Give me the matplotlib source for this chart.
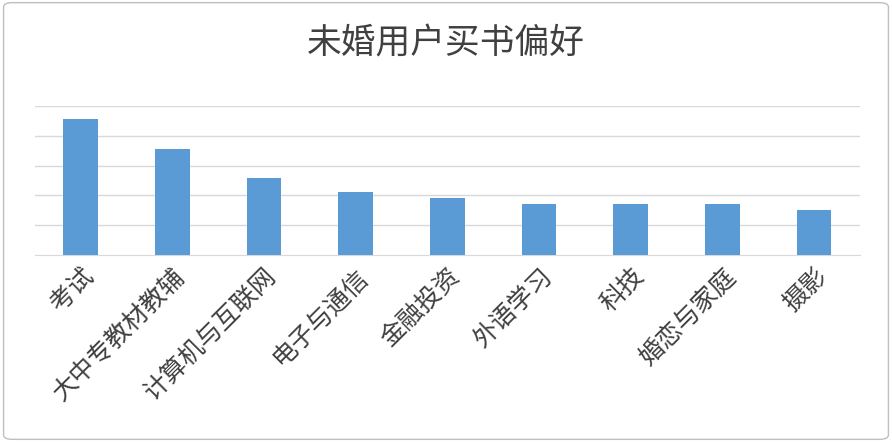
import matplotlib.pyplot as plt
from matplotlib.patches import FancyBboxPatch

plt.rcParams['font.family'] = ['Noto Sans CJK SC', 'DejaVu Sans']

categories = ["考试", "大中专教材教辅", "计算机与互联网", "电子与通信", "金融投资",
              "外语学习", "科技", "婚恋与家庭", "摄影"]
values = [4.57, 3.57, 2.57, 2.1, 1.9, 1.7, 1.7, 1.7, 1.5]

fig = plt.figure(figsize=(8.92, 4.42), dpi=100)
ax = fig.add_axes([0.039, 0.423, 0.925, 0.337])
x = range(len(categories))
ax.bar(x, values, width=0.38, color="#5B9BD5", zorder=3)
ax.set_ylim(0, 5)
ax.set_xlim(-0.5, len(categories) - 0.5)
ax.set_yticks([1, 2, 3, 4, 5])
ax.set_yticklabels([])
ax.tick_params(axis="y", length=0)
ax.tick_params(axis="x", length=0, pad=6)
ax.grid(axis="y", color="#d9d9d9", lw=1, zorder=0)
for s in ["top", "right", "left"]:
    ax.spines[s].set_visible(False)
ax.spines["bottom"].set_color("#d9d9d9")
ax.set_xticks(list(x))
ax.set_xticklabels(categories, rotation=45, ha="right", rotation_mode="anchor",
                   fontsize=18, color="#404040")
fig.text(0.5, 0.9, "未婚用户买书偏好", ha="center", va="center",
         fontsize=25, color="#404040")
fig.patches.append(FancyBboxPatch((0.004, 0.006), 0.992, 0.988,
                                  boxstyle="round,pad=0,rounding_size=0.01",
                                  transform=fig.transFigure, fill=False,
                                  edgecolor="#bfbfbf", lw=1))
fig.savefig("out.png", dpi=100)
